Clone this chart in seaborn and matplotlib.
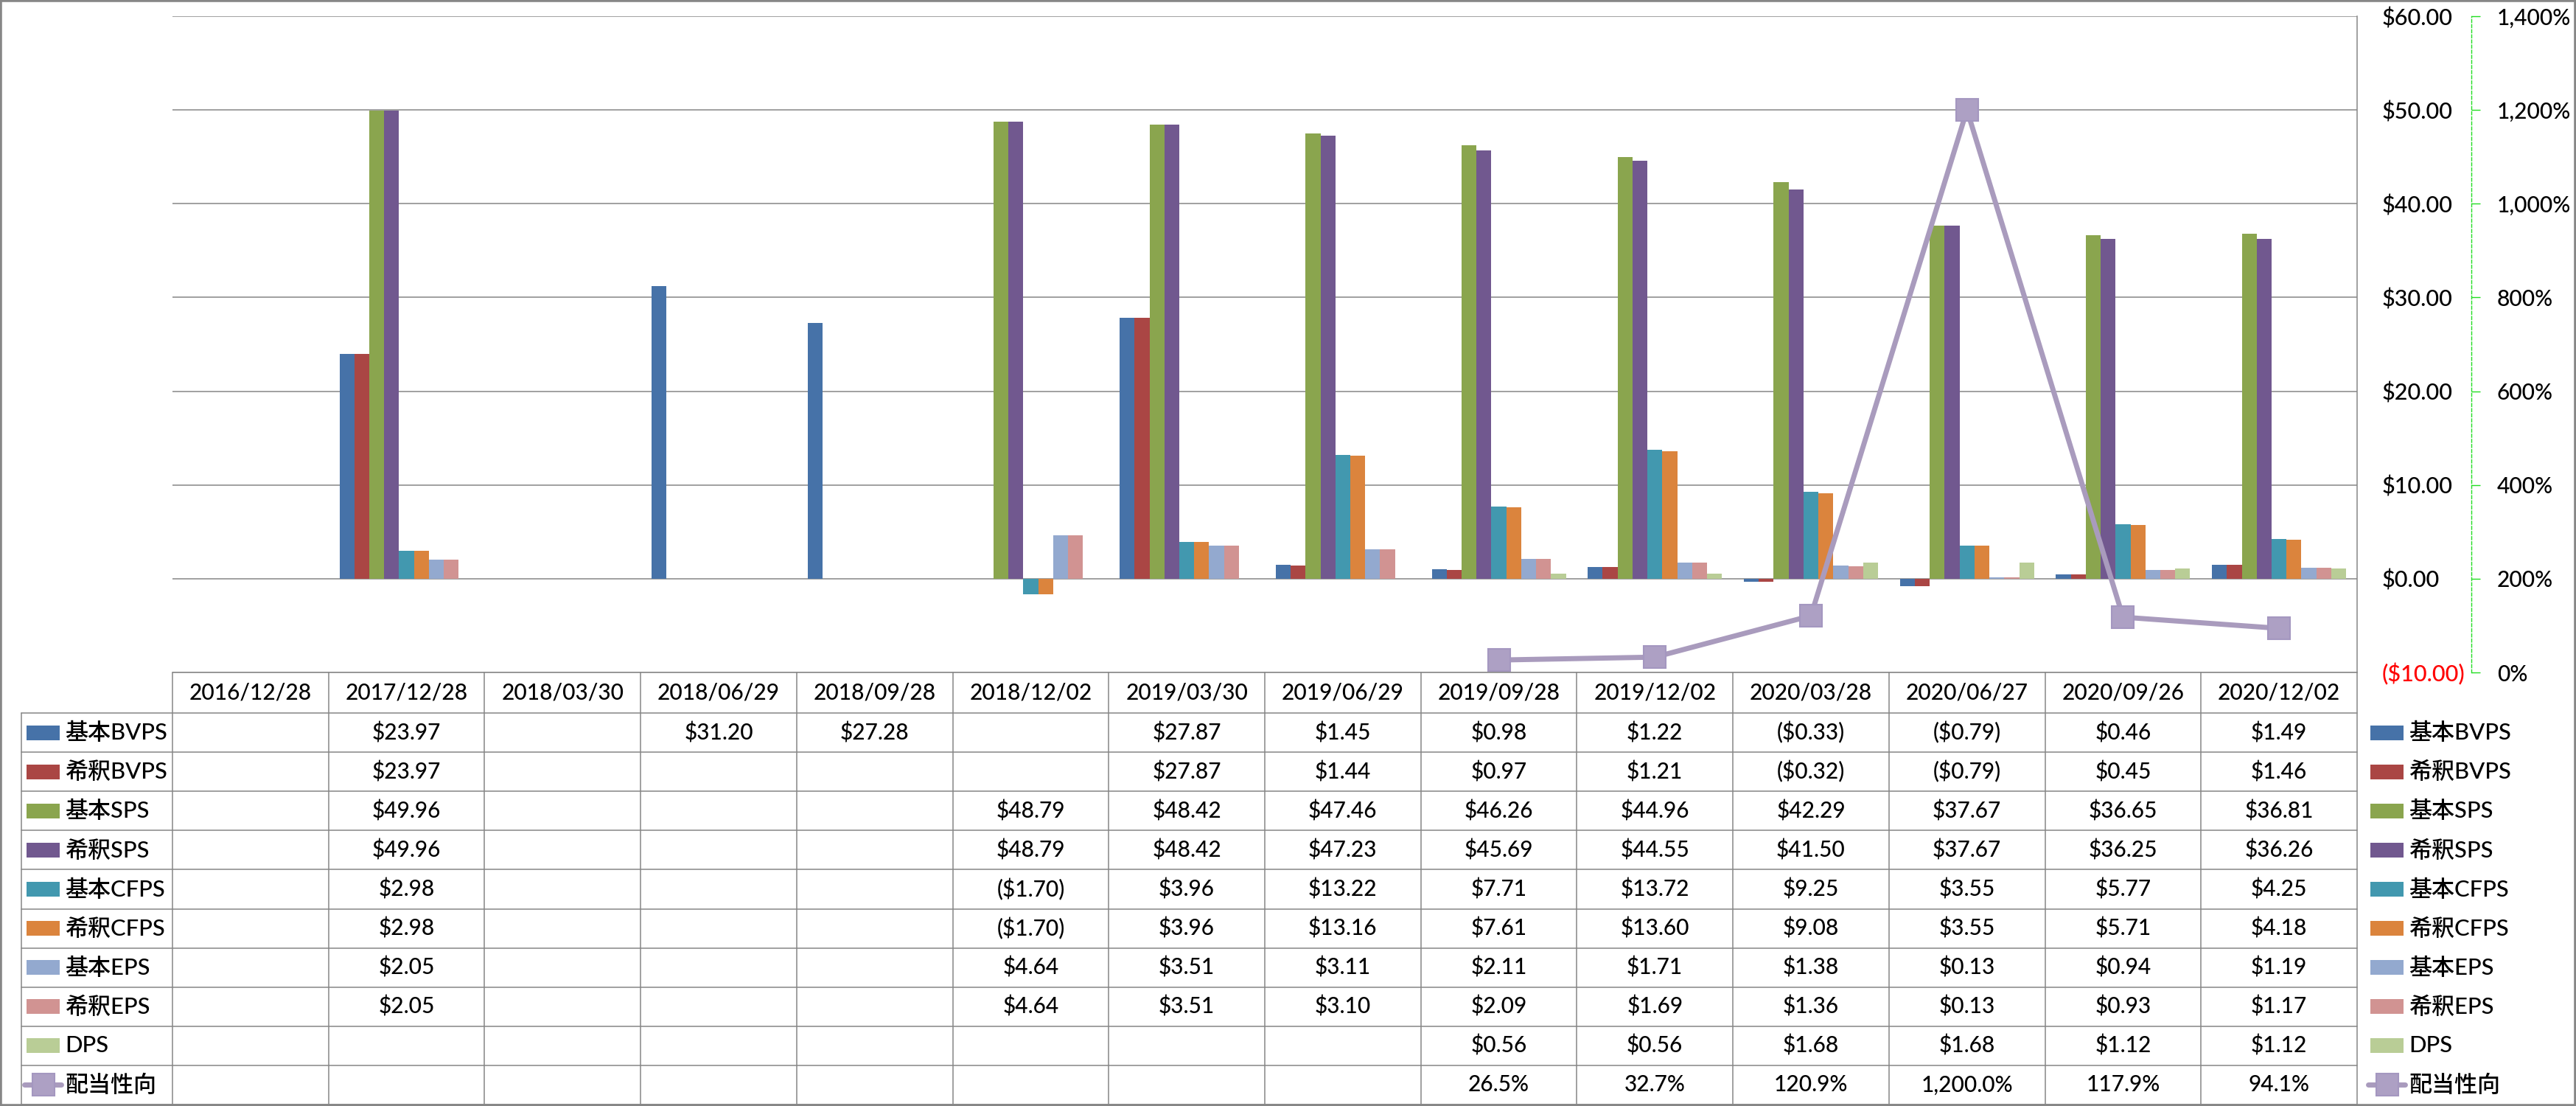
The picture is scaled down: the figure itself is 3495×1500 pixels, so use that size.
import numpy as np
import pandas as pd
import matplotlib
matplotlib.use("Agg")
import matplotlib.pyplot as plt
import seaborn as sns
from matplotlib.lines import Line2D
from matplotlib.patches import Rectangle
from matplotlib.ticker import FuncFormatter
import matplotlib.transforms as mtransforms

nan = np.nan

# ---------------- data ----------------
dates = ["2016/12/28", "2017/12/28", "2018/03/30", "2018/06/29", "2018/09/28",
         "2018/12/02", "2019/03/30", "2019/06/29", "2019/09/28", "2019/12/02",
         "2020/03/28", "2020/06/27", "2020/09/26", "2020/12/02"]

series_names = ["基本BVPS", "希釈BVPS", "基本SPS", "希釈SPS", "基本CFPS",
                "希釈CFPS", "基本EPS", "希釈EPS", "DPS"]

basic_bvps = [nan, 23.97, nan, 31.20, 27.28, nan, 27.87, 1.45, 0.98, 1.22, -0.33, -0.79, 0.46, 1.49]
diluted_bvps = [nan, 23.97, nan, nan, nan, nan, 27.87, 1.44, 0.97, 1.21, -0.32, -0.79, 0.45, 1.46]
basic_sps = [nan, 49.96, nan, nan, nan, 48.79, 48.42, 47.46, 46.26, 44.96, 42.29, 37.67, 36.65, 36.81]
diluted_sps = [nan, 49.96, nan, nan, nan, 48.79, 48.42, 47.23, 45.69, 44.55, 41.50, 37.67, 36.25, 36.26]
basic_cfps = [nan, 2.98, nan, nan, nan, -1.70, 3.96, 13.22, 7.71, 13.72, 9.25, 3.55, 5.77, 4.25]
diluted_cfps = [nan, 2.98, nan, nan, nan, -1.70, 3.96, 13.16, 7.61, 13.60, 9.08, 3.55, 5.71, 4.18]
basic_eps = [nan, 2.05, nan, nan, nan, 4.64, 3.51, 3.11, 2.11, 1.71, 1.38, 0.13, 0.94, 1.19]
diluted_eps = [nan, 2.05, nan, nan, nan, 4.64, 3.51, 3.10, 2.09, 1.69, 1.36, 0.13, 0.93, 1.17]
dps = [nan, nan, nan, nan, nan, nan, nan, nan, 0.56, 0.56, 1.68, 1.68, 1.12, 1.12]

ratio_label = "配当性向"
payout_ratio = [nan, nan, nan, nan, nan, nan, nan, nan, 26.5, 32.7, 120.9, 1200.0, 117.9, 94.1]

money_ticks = [-10, 0, 10, 20, 30, 40, 50, 60]
pct_ticks = [0, 200, 400, 600, 800, 1000, 1200, 1400]

bar_colors = ["#4672A8", "#AA4644", "#8AA54E", "#71588F", "#4298AF",
              "#DB843D", "#93A9CF", "#D19392", "#B9CD96"]
line_color = "#A99BBD"
marker_face = "#ADA0C4"

series_values = [basic_bvps, diluted_bvps, basic_sps, diluted_sps, basic_cfps,
                 diluted_cfps, basic_eps, diluted_eps, dps]

# ---------------- helpers ----------------
def money_fmt(v, pos=None):
    if v < 0:
        return f"(${-v:,.2f})"
    return f"${v:,.2f}"

def cell_money(v):
    if v is None or (isinstance(v, float) and np.isnan(v)):
        return ""
    return money_fmt(v)

def cell_pct(v):
    if v is None or (isinstance(v, float) and np.isnan(v)):
        return ""
    return f"{v:,.1f}%"

# ---------------- style ----------------
sns.set_theme(style="white")
plt.rcParams['font.family'] = ['Lato', 'Noto Sans CJK JP', 'DejaVu Sans']
plt.rcParams['font.weight'] = 'medium'
GRID_C = "#868686"

W, H, DPI = 3495, 1500, 100
fig = plt.figure(figsize=(W / DPI, H / DPI), dpi=DPI)
fig.patch.set_facecolor("white")
renderer = fig.canvas.get_renderer()

def fit_size(sample, target_px, base=22.0):
    t = fig.text(0, 0, sample, fontsize=base)
    w = t.get_window_extent(renderer=renderer).width
    t.remove()
    return base * target_px / w

FS_NUM = fit_size("2019/09/28", 166)
FS_LAB = fit_size("基本BVPS", 139)
FS_TICK = fit_size("$60.00", 96)
FS_PCT = fit_size("1,400%", 100)

def fx(px):
    return px / W

def fy(py):
    return 1 - py / H

PLOT_L, PLOT_R, PLOT_T, PLOT_B = 234, 3198, 22, 912
HEAD_B = 967
TAB_B = 1498
ROW_H = (TAB_B - HEAD_B) / 10
LAB_L = 29

ax = fig.add_axes([fx(PLOT_L), fy(PLOT_B), (PLOT_R - PLOT_L) / W, (PLOT_B - PLOT_T) / H])

# ---------------- bars ----------------
rows = []
for name, vals in zip(series_names, series_values):
    for d, v in zip(dates, vals):
        rows.append({"date": d, "series": name, "value": v})
df = pd.DataFrame(rows).dropna()

sns.barplot(data=df, x="date", y="value", hue="series", order=dates,
            hue_order=series_names, palette=bar_colors, width=0.86, gap=0,
            saturation=1, errorbar=None, dodge=True, legend=False,
            linewidth=0, ax=ax)

# ---------------- line (secondary axis) ----------------
ax2 = ax.twinx()
ldf = pd.DataFrame({"x": np.arange(len(dates)), "ratio": payout_ratio}).dropna()
sns.lineplot(data=ldf, x="x", y="ratio", ax=ax2, color=line_color, lw=5,
             marker='s', markersize=21, markeredgecolor="#A497C0",
             markerfacecolor=marker_face, markeredgewidth=1.5, sort=False,
             legend=False)

# primary axis (after twinx, which moves ticks to the left)
ax.set_xlim(-0.5, len(dates) - 0.5)
ax.set_ylim(-10, 60)
ax.set_yticks(money_ticks)
ax.yaxis.set_major_formatter(FuncFormatter(money_fmt))
ax.yaxis.tick_right()
ax.yaxis.set_tick_params(which='major', length=0, pad=(3232 - PLOT_R) * 72 / DPI,
                         labelsize=FS_TICK, labelcolor='black',
                         left=False, labelleft=False, right=False, labelright=True)
ax.set_xticks([])
ax.set_xlabel("")
ax.set_ylabel("")
ax.grid(axis='y', color=GRID_C, lw=1.1)
ax.grid(axis='x', visible=False)
ax.set_axisbelow(True)
for s in ["left", "top", "bottom"]:
    ax.spines[s].set_visible(False)
ax.spines["right"].set_color(GRID_C)
ax.spines["right"].set_linewidth(1.1)
ticks = ax.yaxis.get_major_ticks()
ticks[0].label2.set_color("red")

ax2.set_ylim(0, 1400)
ax2.set_xlim(-0.5, len(dates) - 0.5)
ax2.set_yticks(pct_ticks)
ax2.yaxis.set_major_formatter(FuncFormatter(lambda v, p: f"{v:,.0f}%"))
ax2.set_ylabel("")
ax2.set_xlabel("")
ax2.grid(False)
for s in ["left", "top", "bottom"]:
    ax2.spines[s].set_visible(False)
ax2.spines["right"].set_position(("axes", (3353 - PLOT_L) / (PLOT_R - PLOT_L)))
ax2.spines["right"].set_color("#22DD22")
ax2.spines["right"].set_linestyle((0, (3, 2)))
ax2.spines["right"].set_linewidth(1)
ax2.tick_params(axis='y', direction='out', length=8.6, width=1, color="#22DD22",
                pad=(3388 - 3365) * 72 / DPI, labelsize=FS_PCT, labelcolor='black')

# ---------------- data table ----------------
tr = mtransforms.blended_transform_factory(ax.transData, fig.transFigure)
ft = fig.transFigure

def hline(x0, x1, y, transform=ft):
    fig.add_artist(Line2D([x0, x1], [y, y], transform=transform, color=GRID_C, lw=1.1))

def vline(x, y0, y1, transform=ft):
    fig.add_artist(Line2D([x, x], [y0, y1], transform=transform, color=GRID_C, lw=1.1))

hline(fx(PLOT_L), fx(PLOT_R), fy(PLOT_B))
for k in range(11):
    hline(fx(LAB_L), fx(PLOT_R), fy(HEAD_B + k * ROW_H))
for i in range(len(dates) + 1):
    vline(i - 0.5, fy(PLOT_B), fy(TAB_B), transform=tr)
vline(fx(LAB_L), fy(HEAD_B), fy(TAB_B))

for i, d in enumerate(dates):
    fig.text(i, fy((PLOT_B + HEAD_B) / 2), d, transform=tr, ha='center',
             va='center', fontsize=FS_NUM, color='black')

all_rows = series_values + [payout_ratio]
for k, vals in enumerate(all_rows):
    yc = fy(HEAD_B + (k + 0.5) * ROW_H)
    for i, v in enumerate(vals):
        txt = cell_pct(v) if k == len(series_values) else cell_money(v)
        if txt:
            fig.text(i, yc, txt, transform=tr, ha='center', va='center',
                     fontsize=FS_NUM, color='black')

def draw_legend(key_l, key_r, text_x):
    for k, name in enumerate(series_names + [ratio_label]):
        yc = HEAD_B + (k + 0.5) * ROW_H
        if k < len(series_names):
            fig.add_artist(Rectangle((fx(key_l), fy(yc + 10)), (key_r - key_l) / W, 20 / H,
                                     transform=ft, facecolor=bar_colors[k], edgecolor='none'))
        else:
            fig.add_artist(Line2D([fx(key_l - 3), fx(key_r + 2)], [fy(yc), fy(yc)],
                                  transform=ft, color=line_color, lw=5,
                                  solid_capstyle='round'))
            fig.add_artist(Line2D([fx((key_l + key_r) / 2)], [fy(yc)], transform=ft,
                                  marker='s', markersize=21, markerfacecolor=marker_face,
                                  markeredgecolor="#A497C0", markeredgewidth=1.5, lw=0))
        fig.text(fx(text_x), fy(yc), name, transform=ft, ha='left', va='center',
                 fontsize=FS_LAB, color='black')

draw_legend(36, 81, 88)
draw_legend(3216, 3261, 3268)

fig.add_artist(Rectangle((0, 0), 1, 1, transform=ft, fill=False,
                         edgecolor=GRID_C, lw=4))

fig.savefig("out.png", dpi=DPI)
